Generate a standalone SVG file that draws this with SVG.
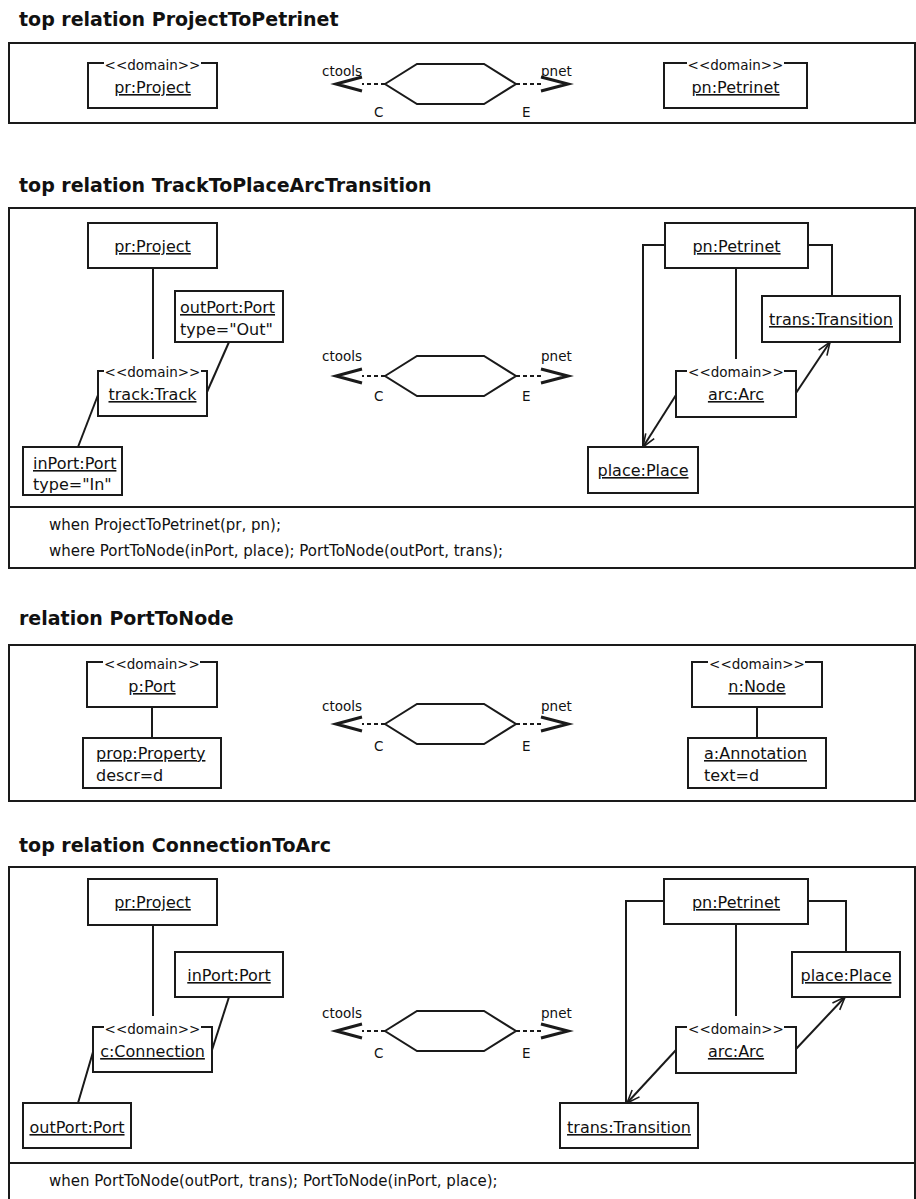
<svg xmlns="http://www.w3.org/2000/svg" width="916" height="1199" viewBox="0 0 916 1199">
<style>
.frame{fill:none;stroke:#1a1a1a;stroke-width:2}
.box{fill:#fff;stroke:#1a1a1a;stroke-width:2}
.ln{fill:none;stroke:#1a1a1a;stroke-width:2}
.hex{fill:#fff;stroke:#1a1a1a;stroke-width:2}
.dash{fill:none;stroke:#1a1a1a;stroke-width:2;stroke-dasharray:4 3}
.big{fill:none;stroke:#1a1a1a;stroke-width:3}
.bg{fill:#fff}
text{font-family:"DejaVu Sans",Verdana,sans-serif;fill:#111}
.t{font-size:16px}
.u{text-decoration:underline}
.dom{font-size:13.5px}
.lbl{font-size:13.5px}
.title{font-size:19px;font-weight:bold}
.when{font-size:15px}
.c{text-anchor:middle}
</style>
<defs>
<marker id="open" markerUnits="userSpaceOnUse" markerWidth="16" markerHeight="14" refX="14" refY="7" orient="auto">
<path d="M1,2 L14,7 L1,12" fill="none" stroke="#1a1a1a" stroke-width="1.6"/>
</marker>
</defs>

<!-- Titles -->
<text class="title" x="19" y="26">top relation ProjectToPetrinet</text>
<text class="title" x="19" y="192">top relation TrackToPlaceArcTransition</text>
<text class="title" x="19" y="625">relation PortToNode</text>
<text class="title" x="19" y="852">top relation ConnectionToArc</text>

<!-- Frames -->
<g id="frames">
<rect class="frame" x="9" y="43" width="906" height="80"/>
<rect class="frame" x="9" y="208" width="906" height="360"/>
<line class="frame" x1="9" y1="507" x2="915" y2="507"/>
<rect class="frame" x="9" y="645" width="906" height="156"/>
<rect class="frame" x="9" y="867" width="906" height="360"/>
<line class="frame" x1="9" y1="1163" x2="915" y2="1163"/>
</g>

<!-- Connectors -->
<g id="connectors">
<line class="ln" x1="153" y1="268" x2="153" y2="359"/>
<line class="ln" x1="229" y1="342" x2="207" y2="392"/>
<line class="ln" x1="78" y1="447" x2="98" y2="395"/>
<polyline class="ln" points="665,245 643,245 643,447"/>
<polyline class="ln" points="808,245 832,245 832,296"/>
<line class="ln" x1="736" y1="268" x2="736" y2="359"/>
<line class="ln" x1="676" y1="395" x2="643" y2="447" marker-end="url(#open)"/>
<line class="ln" x1="796" y1="393" x2="830" y2="342" marker-end="url(#open)"/>

<line class="ln" x1="152" y1="707" x2="152" y2="738"/>
<line class="ln" x1="757" y1="707" x2="757" y2="738"/>

<line class="ln" x1="153" y1="925" x2="153" y2="1016"/>
<line class="ln" x1="229" y1="997" x2="212" y2="1050"/>
<line class="ln" x1="78" y1="1103" x2="93" y2="1052"/>
<polyline class="ln" points="664,901 626,901 626,1103"/>
<polyline class="ln" points="808,901 846,901 846,952"/>
<line class="ln" x1="736" y1="924" x2="736" y2="1016"/>
<line class="ln" x1="676" y1="1050" x2="627" y2="1103" marker-end="url(#open)"/>
<line class="ln" x1="796" y1="1049" x2="845" y2="997" marker-end="url(#open)"/>
</g>

<!-- Panel 1 -->
<g id="p1-pr">
<rect class="box" x="88" y="63" width="129" height="45"/>
<rect class="bg" x="104" y="57" width="97" height="12"/>
<text class="dom c" x="152.5" y="70">&lt;&lt;domain&gt;&gt;</text>
<text class="t u c" x="152.5" y="93">pr:Project</text>
</g>
<g id="p1-rel" transform="translate(385,84)">
<polygon class="hex" points="0,0 32,-20 99,-20 131,0 99,20 32,20"/>
<line class="dash" x1="0" y1="0" x2="-23" y2="0"/>
<line class="dash" x1="131" y1="0" x2="156" y2="0"/>
<polyline class="big" points="-23,-7 -49,0 -23,7"/>
<polyline class="big" points="156,-7 183,0 156,7"/>
<text class="lbl" x="-23" y="-8" text-anchor="end">ctools</text>
<text class="lbl" x="-11" y="33">C</text>
<text class="lbl" x="156" y="-8">pnet</text>
<text class="lbl" x="137" y="33">E</text>
</g>
<g id="p1-pn">
<rect class="box" x="664" y="63" width="143" height="45"/>
<rect class="bg" x="687" y="57" width="97" height="12"/>
<text class="dom c" x="735.5" y="70">&lt;&lt;domain&gt;&gt;</text>
<text class="t u c" x="735.5" y="93">pn:Petrinet</text>
</g>

<!-- Panel 2 -->
<g id="p2-pr">
<rect class="box" x="88" y="223" width="129" height="45"/>
<text class="t u c" x="152.5" y="252">pr:Project</text>
</g>
<g id="p2-outport">
<rect class="box" x="175" y="291" width="108" height="51"/>
<text class="t u" x="180" y="313">outPort:Port</text>
<text class="t" x="180" y="335">type="Out"</text>
</g>
<g id="p2-track">
<rect class="box" x="98" y="371" width="109" height="45"/>
<rect class="bg" x="104" y="365" width="97" height="12"/>
<text class="dom c" x="152.5" y="377">&lt;&lt;domain&gt;&gt;</text>
<text class="t u c" x="152.5" y="400">track:Track</text>
</g>
<g id="p2-inport">
<rect class="box" x="23" y="447" width="99" height="48"/>
<text class="t u" x="33" y="469">inPort:Port</text>
<text class="t" x="33" y="490">type="In"</text>
</g>
<g id="p2-rel" transform="translate(385,376)">
<polygon class="hex" points="0,0 32,-20 99,-20 131,0 99,20 32,20"/>
<line class="dash" x1="0" y1="0" x2="-23" y2="0"/>
<line class="dash" x1="131" y1="0" x2="156" y2="0"/>
<polyline class="big" points="-23,-7 -49,0 -23,7"/>
<polyline class="big" points="156,-7 183,0 156,7"/>
<text class="lbl" x="-23" y="-15" text-anchor="end">ctools</text>
<text class="lbl" x="-11" y="25">C</text>
<text class="lbl" x="156" y="-15">pnet</text>
<text class="lbl" x="137" y="25">E</text>
</g>
<g id="p2-pn">
<rect class="box" x="665" y="223" width="143" height="45"/>
<text class="t u c" x="736.5" y="252">pn:Petrinet</text>
</g>
<g id="p2-trans">
<rect class="box" x="762" y="296" width="138" height="46"/>
<text class="t u c" x="831" y="325">trans:Transition</text>
</g>
<g id="p2-arc">
<rect class="box" x="676" y="371" width="120" height="46"/>
<rect class="bg" x="687" y="365" width="97" height="12"/>
<text class="dom c" x="736" y="377">&lt;&lt;domain&gt;&gt;</text>
<text class="t u c" x="736" y="400">arc:Arc</text>
</g>
<g id="p2-place">
<rect class="box" x="588" y="447" width="110" height="46"/>
<text class="t u c" x="643" y="476">place:Place</text>
</g>
<text class="when" x="49" y="530">when ProjectToPetrinet(pr, pn);</text>
<text class="when" x="49" y="556">where PortToNode(inPort, place); PortToNode(outPort, trans);</text>

<!-- Panel 3 -->
<g id="p3-p">
<rect class="box" x="87" y="662" width="130" height="45"/>
<rect class="bg" x="103" y="656" width="97" height="12"/>
<text class="dom c" x="152" y="669">&lt;&lt;domain&gt;&gt;</text>
<text class="t u c" x="152" y="692">p:Port</text>
</g>
<g id="p3-prop">
<rect class="box" x="83" y="738" width="138" height="50"/>
<text class="t u" x="96" y="759">prop:Property</text>
<text class="t" x="96" y="781">descr=d</text>
</g>
<g id="p3-rel" transform="translate(385,724)">
<polygon class="hex" points="0,0 32,-20 99,-20 131,0 99,20 32,20"/>
<line class="dash" x1="0" y1="0" x2="-23" y2="0"/>
<line class="dash" x1="131" y1="0" x2="156" y2="0"/>
<polyline class="big" points="-23,-7 -49,0 -23,7"/>
<polyline class="big" points="156,-7 183,0 156,7"/>
<text class="lbl" x="-23" y="-13" text-anchor="end">ctools</text>
<text class="lbl" x="-11" y="27">C</text>
<text class="lbl" x="156" y="-13">pnet</text>
<text class="lbl" x="137" y="27">E</text>
</g>
<g id="p3-n">
<rect class="box" x="692" y="662" width="130" height="45"/>
<rect class="bg" x="708" y="656" width="97" height="12"/>
<text class="dom c" x="757" y="669">&lt;&lt;domain&gt;&gt;</text>
<text class="t u c" x="757" y="692">n:Node</text>
</g>
<g id="p3-a">
<rect class="box" x="688" y="738" width="138" height="50"/>
<text class="t u" x="704" y="759">a:Annotation</text>
<text class="t" x="704" y="781">text=d</text>
</g>

<!-- Panel 4 -->
<g id="p4-pr">
<rect class="box" x="88" y="879" width="129" height="46"/>
<text class="t u c" x="152.5" y="908">pr:Project</text>
</g>
<g id="p4-inport">
<rect class="box" x="175" y="952" width="108" height="45"/>
<text class="t u c" x="229" y="981">inPort:Port</text>
</g>
<g id="p4-c">
<rect class="box" x="93" y="1027" width="119" height="45"/>
<rect class="bg" x="104" y="1021" width="97" height="12"/>
<text class="dom c" x="152.5" y="1034">&lt;&lt;domain&gt;&gt;</text>
<text class="t u c" x="152.5" y="1057">c:Connection</text>
</g>
<g id="p4-outport">
<rect class="box" x="23" y="1103" width="108" height="45"/>
<text class="t u c" x="77" y="1133">outPort:Port</text>
</g>
<g id="p4-rel" transform="translate(385,1031)">
<polygon class="hex" points="0,0 32,-20 99,-20 131,0 99,20 32,20"/>
<line class="dash" x1="0" y1="0" x2="-23" y2="0"/>
<line class="dash" x1="131" y1="0" x2="156" y2="0"/>
<polyline class="big" points="-23,-7 -49,0 -23,7"/>
<polyline class="big" points="156,-7 183,0 156,7"/>
<text class="lbl" x="-23" y="-13" text-anchor="end">ctools</text>
<text class="lbl" x="-11" y="27">C</text>
<text class="lbl" x="156" y="-13">pnet</text>
<text class="lbl" x="137" y="27">E</text>
</g>
<g id="p4-pn">
<rect class="box" x="664" y="879" width="144" height="45"/>
<text class="t u c" x="736" y="908">pn:Petrinet</text>
</g>
<g id="p4-place">
<rect class="box" x="792" y="952" width="108" height="45"/>
<text class="t u c" x="846" y="981">place:Place</text>
</g>
<g id="p4-arc">
<rect class="box" x="676" y="1027" width="120" height="46"/>
<rect class="bg" x="687" y="1021" width="97" height="12"/>
<text class="dom c" x="736" y="1034">&lt;&lt;domain&gt;&gt;</text>
<text class="t u c" x="736" y="1057">arc:Arc</text>
</g>
<g id="p4-trans">
<rect class="box" x="560" y="1103" width="138" height="45"/>
<text class="t u c" x="629" y="1133">trans:Transition</text>
</g>
<text class="when" x="49" y="1186">when PortToNode(outPort, trans); PortToNode(inPort, place);</text>
</svg>
